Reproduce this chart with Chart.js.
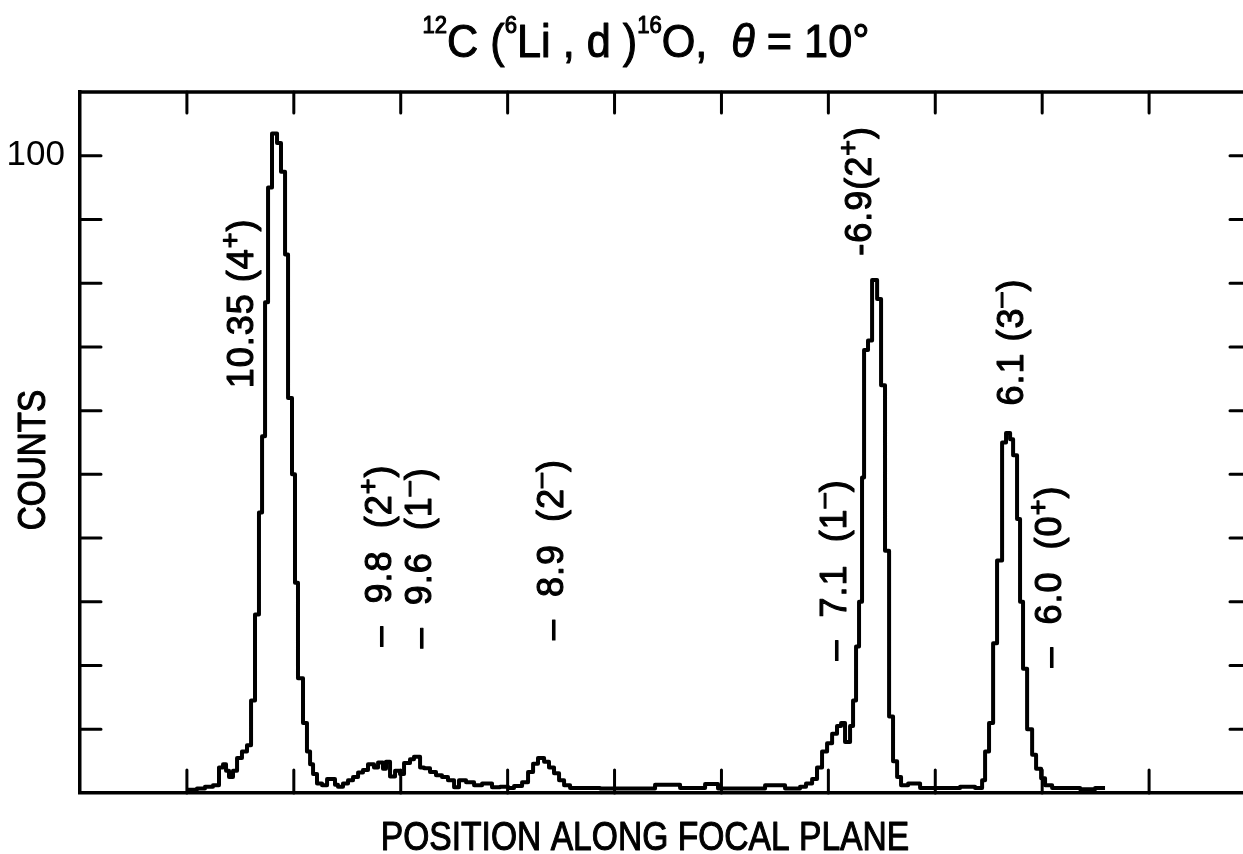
<!DOCTYPE html>
<html>
<head>
<meta charset="utf-8">
<script src="https://cdn.jsdelivr.net/npm/chart.js@4.4.1/dist/chart.umd.min.js"></script>
<style>
  html, body { margin: 0; padding: 0; background: #fff; overflow: hidden; }
</style>
</head>
<body>
<canvas id="spectrum" width="1265" height="854"></canvas>
<script>
// Focal plane position (10 units per tick) where each histogram bin starts
const binStart = [
  10.10, 10.94, 11.69, 12.44, 13.00, 13.38, 13.66, 13.94, 14.31, 14.69,
  15.15, 15.62, 16.00, 16.37, 16.74, 17.03, 17.31, 17.59, 17.96, 18.43,
  18.80, 19.18, 19.46, 19.83, 20.11, 20.39, 20.86, 21.23, 21.52, 21.80,
  22.17, 22.64, 23.11, 23.85, 24.13, 24.60, 25.07, 25.54, 26.01, 26.47,
  26.94, 27.50, 27.88, 28.34, 28.62, 29.00, 29.47, 29.93, 30.31, 30.87,
  31.24, 31.81, 32.18, 32.74, 33.30, 33.86, 34.42, 34.99, 35.45, 36.11,
  36.86, 37.61, 38.54, 39.29, 40.04, 40.60, 41.35, 41.91, 42.38, 42.84,
  43.41, 43.87, 44.34, 44.81, 45.28, 45.84, 48.64, 53.79, 56.13, 58.47,
  59.68, 64.08, 65.95, 67.35, 67.91, 68.48, 68.94, 69.41, 69.88, 70.35,
  70.81, 71.19, 71.56, 72.03, 72.31, 72.59, 72.87, 73.15, 73.34, 73.71,
  74.09, 74.56, 74.93, 75.30, 75.68, 76.05, 76.43, 76.80, 77.46, 78.58,
  82.32, 83.72, 84.38, 84.66, 85.03, 85.41, 85.78, 86.25, 86.62, 87.00,
  87.28, 87.65, 87.93, 88.21, 88.59, 89.06, 89.43, 89.90, 90.27, 90.93,
  93.55, 94.95, 95.88
];
const counts = [
  0.5, 0.7, 1.0, 1.2, 4.0, 4.5, 3.5, 2.5, 3.5, 5.5,
  6.5, 7.5, 14.5, 28, 44, 56, 77, 95, 103.5, 102,
  97.5, 84.5, 62, 50, 33, 18, 11, 6.5, 4.5, 3,
  1.5, 1.2, 2.2, 1.3, 1.0, 1.5, 2.0, 2.5, 3.2, 3.6,
  4.5, 4.0, 4.8, 3.8, 4.9, 2.6, 3.5, 3.0, 4.7, 5.3,
  5.7, 4.0, 3.9, 3.3, 2.8, 2.5, 2.0, 0.9, 2.0, 1.7,
  1.2, 1.5, 0.9, 1.0, 0.8, 1.1, 1.7, 3.3, 4.6, 5.5,
  4.9, 4.0, 3.1, 2.0, 1.2, 0.8, 0.7, 1.3, 0.8, 1.4,
  0.7, 1.2, 0.7, 1.0, 1.5, 2.2, 4.0, 6.5, 7.8, 9.3,
  10.5, 11.0, 8.0, 10.5, 14.5, 23, 30, 49.5, 69.5, 71,
  80.5, 77.5, 64, 38, 12, 5, 2.5, 1.2, 1.5, 0.8,
  1.0, 0.8, 2.0, 6.5, 11, 23.5, 36.5, 55, 56.5, 55.5,
  53, 43, 30, 19.5, 10, 6, 3.8, 2.3, 1.2, 0.8,
  0.6, 0.8, 0.8
];

const xTicks = [10, 20, 30, 40, 50, 60, 70, 80, 90, 100];
const yTicks = [10, 20, 30, 40, 50, 60, 70, 80, 90, 100];

// Level labels: [text, superscript?] pieces, anchored at (position, counts)
const peakLabels = [
  [['10.35 (4', 0], ['+', 1], [')', 0]],
  [['–  9.8  (2', 0], ['+', 1], [')', 0]],
  [['–  9.6  (1', 0], ['–', 1], [')', 0]],
  [['–  8.9  (2', 0], ['–', 1], [')', 0]],
  [['–  7.1  (1', 0], ['–', 1], [')', 0]],
  [['-6.9(2', 0], ['+', 1], [')', 0]],
  [['6.1 (3', 0], ['–', 1], [')', 0]],
  [['–  6.0  (0', 0], ['+', 1], [')', 0]]
];
const peakLabelAt = [
  [14.97, 63.5], [27.88, 23.0], [31.62, 22.7], [43.97, 24.0],
  [70.44, 20.8], [72.78, 84.3], [87.0, 60.8], [90.55, 19.7]
];

const titleParts = [
  ['12', 1], ['C', 0], [' (', 0], ['6', 1], ['Li', 0], [' ,', 0], [' d', 0], [' )', 0],
  ['16', 1], ['O', 0], [',', 0], ['  ', 0], ['θ', 2], [' = ', 0], ['10', 0], ['°', 0]
];

const FONT = '"Liberation Sans", Arial, sans-serif';

function partFont(kind, size, supScale) {
  if (kind === 1) return `${Math.round(size * supScale)}px ${FONT}`;
  if (kind === 2) return `italic ${size}px ${FONT}`;
  return `${size}px ${FONT}`;
}

function partsWidth(ctx, parts, size, supScale) {
  let w = 0;
  parts.forEach(([t, k]) => {
    ctx.font = partFont(k, size, supScale);
    w += ctx.measureText(t).width;
  });
  return w;
}

// draws the pieces left to right; a light stroke thickens the lettering
function drawParts(ctx, parts, size, supScale, rise) {
  let x = 0;
  parts.forEach(([t, k]) => {
    ctx.font = partFont(k, size, supScale);
    const dy = k === 1 ? -size * rise : 0;
    ctx.fillText(t, x, dy);
    ctx.strokeText(t, x, dy);
    x += ctx.measureText(t).width;
  });
}

const decorations = {
  id: 'decorations',
  afterDraw(chart) {
    const { ctx, chartArea: a, scales: { x, y } } = chart;
    ctx.save();
    ctx.strokeStyle = '#000';
    ctx.fillStyle = '#000';
    ctx.lineWidth = 3.5;
    ctx.lineCap = 'round';

    // top and right sides of the frame
    ctx.beginPath();
    ctx.moveTo(a.left, a.top);
    ctx.lineTo(a.right, a.top);
    ctx.lineTo(a.right, a.bottom);
    ctx.stroke();

    // inward tick marks on all four sides
    ctx.lineWidth = 3;
    ctx.beginPath();
    xTicks.forEach(v => {
      const px = x.getPixelForValue(v);
      ctx.moveTo(px, a.top); ctx.lineTo(px, a.top + 21);
      ctx.moveTo(px, a.bottom); ctx.lineTo(px, a.bottom - 23);
    });
    yTicks.forEach(v => {
      const py = y.getPixelForValue(v);
      ctx.moveTo(a.left, py); ctx.lineTo(a.left + 21, py);
      ctx.moveTo(a.right, py); ctx.lineTo(a.right - 26, py);
    });
    ctx.stroke();

    ctx.textBaseline = 'alphabetic';
    ctx.textAlign = 'left';
    ctx.lineWidth = 1.1;
    ctx.lineJoin = 'round';

    // level labels, rotated to read upward
    const size = 36;
    ctx.letterSpacing = '1px';
    peakLabels.forEach((parts, i) => {
      const [px, cy] = peakLabelAt[i];
      ctx.save();
      ctx.translate(x.getPixelForValue(px) + size * 0.36, y.getPixelForValue(cy));
      ctx.rotate(-Math.PI / 2);
      drawParts(ctx, parts, size, 0.75, 0.38);
      ctx.restore();
    });
    ctx.letterSpacing = '0px';

    // main title
    const tSize = 47;
    const tw = partsWidth(ctx, titleParts, tSize, 0.5);
    const sx = 447 / tw;
    ctx.save();
    ctx.translate(646 - 447 / 2, 57);
    ctx.scale(sx, 1);
    drawParts(ctx, titleParts, tSize, 0.5, 0.52);
    ctx.restore();

    // axis titles
    ctx.save();
    ctx.font = `40px ${FONT}`;
    ctx.textAlign = 'center';
    ctx.translate(645, 850);
    ctx.scale(0.84, 1);
    ctx.fillText('POSITION ALONG FOCAL PLANE', 0, 0);
    ctx.strokeText('POSITION ALONG FOCAL PLANE', 0, 0);
    ctx.restore();

    ctx.save();
    ctx.font = `38px ${FONT}`;
    ctx.textAlign = 'center';
    ctx.translate(45, 460);
    ctx.rotate(-Math.PI / 2);
    ctx.scale(0.875, 1);
    ctx.fillText('COUNTS', 0, 0);
    ctx.strokeText('COUNTS', 0, 0);
    ctx.restore();

    ctx.restore();
  }
};

new Chart(document.getElementById('spectrum'), {
  type: 'line',
  data: {
    datasets: [{
      data: binStart.map((c, i) => ({ x: c, y: counts[i] })),
      stepped: true,
      borderColor: '#000',
      borderWidth: 4,
      borderJoinStyle: 'round',
      pointRadius: 0,
      fill: false
    }]
  },
  options: {
    responsive: false,
    animation: false,
    events: [],
    layout: { padding: { top: 92, right: 9, left: 0, bottom: 0 } },
    plugins: {
      legend: { display: false },
      tooltip: { enabled: false }
    },
    scales: {
      x: {
        type: 'linear',
        min: 0,
        max: 110,
        grid: { display: false, drawTicks: false },
        border: { display: true, color: '#000', width: 3.5 },
        ticks: { display: false },
        afterFit: s => { s.height = 61; }
      },
      y: {
        min: 0,
        max: 110,
        grid: { display: false, drawTicks: false },
        border: { display: true, color: '#000', width: 3.5 },
        ticks: {
          stepSize: 10,
          padding: 15,
          color: '#000',
          font: { family: FONT, size: 35 },
          callback: v => (v === 100 ? '100' : '')
        },
        afterFit: s => { s.width = 80; }
      }
    }
  },
  plugins: [decorations]
});
</script>
</body>
</html>
